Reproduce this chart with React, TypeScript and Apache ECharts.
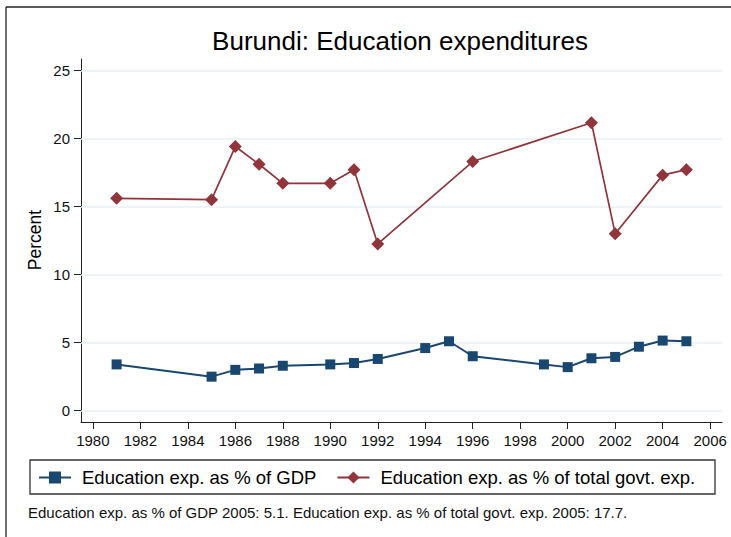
import React, { useEffect, useRef } from "react";
import * as echarts from "echarts";

const titleText = "Burundi: Education expenditures";
const yAxisTitle = "Percent";
const footnote =
  "Education exp. as % of GDP 2005: 5.1. Education exp. as % of total govt. exp. 2005: 17.7.";

const gdpName = "Education exp. as % of GDP";
const govName = "Education exp. as % of total govt. exp.";

const gdpYears = [1981, 1985, 1986, 1987, 1988, 1990, 1991, 1992, 1994, 1995, 1996, 1999, 2000, 2001, 2002, 2003, 2004, 2005];
const gdpValues = [3.4, 2.5, 3.0, 3.1, 3.3, 3.4, 3.5, 3.8, 4.6, 5.1, 4.0, 3.4, 3.2, 3.85, 3.95, 4.7, 5.15, 5.1];

const govYears = [1981, 1985, 1986, 1987, 1988, 1990, 1991, 1992, 1996, 2001, 2002, 2004, 2005];
const govValues = [15.6, 15.5, 19.4, 18.1, 16.7, 16.7, 17.7, 12.25, 18.3, 21.15, 13.0, 17.3, 17.7];

const xTicks = [1980, 1982, 1984, 1986, 1988, 1990, 1992, 1994, 1996, 1998, 2000, 2002, 2004, 2006];
const yTicks = [0, 5, 10, 15, 20, 25];

const FONT = "'Liberation Sans', Arial, Helvetica, sans-serif";
const BLUE = "#1a476f";
const RED = "#90353b";
const GRID = "#e9f1f3";

export default function App() {
  const ref = useRef<HTMLDivElement>(null);

  useEffect(() => {
    if (!ref.current) return;
    const chart = echarts.init(ref.current, null, { renderer: "svg" });
    const option: any = {
      animation: false,
      backgroundColor: "#ffffff",
      textStyle: { fontFamily: FONT },
      grid: { left: 81, top: 59, width: 641, height: 363 },
      xAxis: {
        type: "value",
        min: 1979.5,
        max: 2006.5,
        axisLine: { show: true, onZero: false, lineStyle: { color: "#222", width: 1 } },
        axisTick: { show: true, length: 7, customValues: xTicks, lineStyle: { color: "#222" } },
        axisLabel: {
          customValues: xTicks,
          formatter: (v: number) => String(v),
          fontSize: 15,
          color: "#111",
          fontFamily: FONT,
          margin: 11,
        },
        splitLine: { show: false },
      },
      yAxis: {
        type: "value",
        min: -0.83,
        max: 25.83,
        axisLine: { show: true, onZero: false, lineStyle: { color: "#222", width: 1 } },
        axisTick: { show: true, length: 7, customValues: yTicks, lineStyle: { color: "#222" } },
        axisLabel: {
          customValues: yTicks,
          formatter: (v: number) => String(v),
          fontSize: 15,
          color: "#111",
          fontFamily: FONT,
          margin: 11,
        },
        splitLine: { show: false },
      },
      legend: {
        left: 38,
        top: 468,
        padding: 0,
        itemWidth: 32,
        itemHeight: 15,
        itemGap: 20,
        data: [gdpName, govName],
        textStyle: { fontSize: 18.5, color: "#000", fontFamily: FONT, padding: [0, 0, 0, 6] },
      },
      series: [
        {
          name: gdpName,
          type: "line",
          data: gdpYears.map((y, i) => [y, gdpValues[i]]),
          symbol: "rect",
          symbolSize: 10,
          showAllSymbol: true,
          itemStyle: { color: BLUE },
          lineStyle: { color: BLUE, width: 2 },
          z: 3,
          markLine: {
            silent: true,
            symbol: "none",
            z: 1,
            label: { show: false },
            lineStyle: { color: GRID, width: 1.5, type: "solid" },
            data: yTicks.map((v) => ({ yAxis: v })),
          },
        },
        {
          name: govName,
          type: "line",
          data: govYears.map((y, i) => [y, govValues[i]]),
          symbol: "diamond",
          symbolSize: 13,
          showAllSymbol: true,
          itemStyle: { color: RED },
          lineStyle: { color: RED, width: 1.7 },
          z: 3,
        },
      ],
      graphic: [
        {
          type: "line",
          shape: { x1: 6, y1: 7, x2: 731, y2: 7 },
          style: { stroke: "#222", lineWidth: 1.3 },
        },
        {
          type: "line",
          shape: { x1: 6, y1: 7, x2: 6, y2: 537 },
          style: { stroke: "#222", lineWidth: 1.3 },
        },
        {
          type: "text",
          x: 400,
          y: 41,
          style: {
            text: titleText,
            fontSize: 26,
            fontFamily: FONT,
            fill: "#000",
            textAlign: "center",
            textVerticalAlign: "middle",
          },
        },
        {
          type: "text",
          x: 35,
          y: 240,
          rotation: Math.PI / 2,
          style: {
            text: yAxisTitle,
            fontSize: 17.5,
            fontFamily: FONT,
            fill: "#000",
            textAlign: "center",
            textVerticalAlign: "middle",
          },
        },
        {
          type: "rect",
          shape: { x: 30, y: 460, width: 685, height: 34 },
          style: { fill: "none", stroke: "#333", lineWidth: 1.3 },
          z: -1,
        },
        {
          type: "text",
          x: 28,
          y: 512,
          style: {
            text: footnote,
            fontSize: 15,
            fontFamily: FONT,
            fill: "#111",
            textAlign: "left",
            textVerticalAlign: "middle",
          },
        },
      ],
    };
    chart.setOption(option);
    return () => chart.dispose();
  }, []);

  return (
    <div
      ref={ref}
      style={{ position: "fixed", left: 0, top: 0, width: 731, height: 537, background: "#fff" }}
    />
  );
}
